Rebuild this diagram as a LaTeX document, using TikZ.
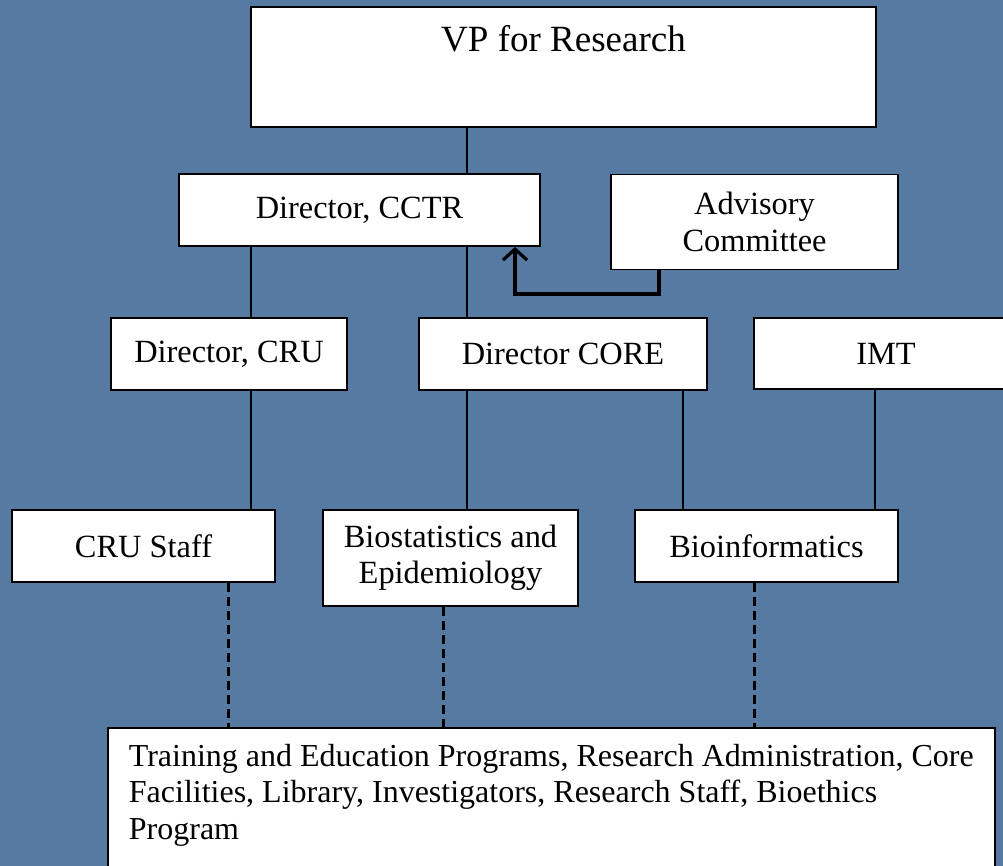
\documentclass[tikz,border=0pt]{standalone}
\usepackage{fontspec}
\setmainfont{Liberation Serif}
\usetikzlibrary{arrows.meta}
\definecolor{bg}{RGB}{86,122,162}
\begin{document}
\begin{tikzpicture}[x=1pt,y=-1pt,
  box/.style={draw=black, fill=white, line width=1.8pt, inner sep=0pt, align=center,
              font=\fontsize{32.4}{36.5}\selectfont},
  conn/.style={line width=1.5pt},
  dotconn/.style={line width=3pt, dash pattern=on 9pt off 5pt},
  fb/.style={line width=3.2pt, -{Straight Barb[length=11pt,width=24pt,line width=3.2pt]}}]
\useasboundingbox (0,0) rectangle (1003,866);
\clip (0,0) rectangle (1003,866);
\fill[bg] (0,0) rectangle (1003,866);

% boxes
\node[box, minimum width=625pt, minimum height=120pt,
      label={[anchor=center, yshift=-33pt, font=\fontsize{37}{44}\selectfont]north:VP for Research}]
      (vp) at (563.5,67) {};
\node[box, minimum width=361pt, minimum height=72pt] (cctr) at (359.5,210) {Director, CCTR};
\node[box, minimum width=287pt, minimum height=95pt] (adv) at (754.5,222) {Advisory\\Committee};
\node[box, minimum width=236pt, minimum height=72pt] (cru) at (229,354) {Director, CRU};
\node[box, minimum width=288pt, minimum height=72pt] (core) at (563,354) {Director CORE};
\node[box, minimum width=264pt, minimum height=71pt] (imt) at (886,353.5) {IMT};
\node[box, minimum width=263pt, minimum height=72pt] (crustaff) at (143.5,546) {CRU Staff};
\node[box, minimum width=255pt, minimum height=96pt] (biostat) at (450.5,558) {Biostatistics and\\Epidemiology};
\node[box, minimum width=263pt, minimum height=72pt] (bioinf) at (766.5,546) {Bioinformatics};
\node[box, anchor=north west, inner xsep=0pt, inner ysep=16pt, font=\fontsize{32}{36.5}\selectfont] (bottom) at (107,727)
  {\begin{minipage}[t][150pt][t]{887pt}\leftskip=21pt\rightskip=0pt plus 1fil\parindent=0pt
   Training and Education Programs, Research Administration, Core\\
   Facilities, Library, Investigators, Research Staff, Bioethics\\
   Program\end{minipage}};

% x positions of connectors
\coordinate (xa) at (467,0);
\coordinate (xb) at (251,0);
\coordinate (xc) at (683,0);
\coordinate (xd) at (875,0);
\coordinate (xe) at (659,0);
\coordinate (xf) at (515,0);
\coordinate (xg) at (228,0);
\coordinate (xh) at (443,0);
\coordinate (xi) at (754,0);
\coordinate (turn) at (0,294);

% solid connectors
\draw[conn] (vp.south -| xa) -- (cctr.north -| xa);
\draw[conn] (cctr.south -| xa) -- (core.north -| xa);
\draw[conn] (cctr.south -| xb) -- (cru.north -| xb);
\draw[conn] (cru.south -| xb) -- (crustaff.north -| xb);
\draw[conn] (core.south -| xa) -- (biostat.north -| xa);
\draw[conn] (core.south -| xc) -- (bioinf.north -| xc);
\draw[conn] (imt.south -| xd) -- (bioinf.north -| xd);

% feedback arrow
\draw[fb] (adv.south -| xe) -- (turn -| xe) -- (turn -| xf) -- (cctr.south -| xf);

% dashed connectors
\draw[dotconn] (crustaff.south -| xg) -- (bottom.north -| xg);
\draw[dotconn] (biostat.south -| xh) -- (bottom.north -| xh);
\draw[dotconn] (bioinf.south -| xi) -- (bottom.north -| xi);
\end{tikzpicture}
\end{document}
